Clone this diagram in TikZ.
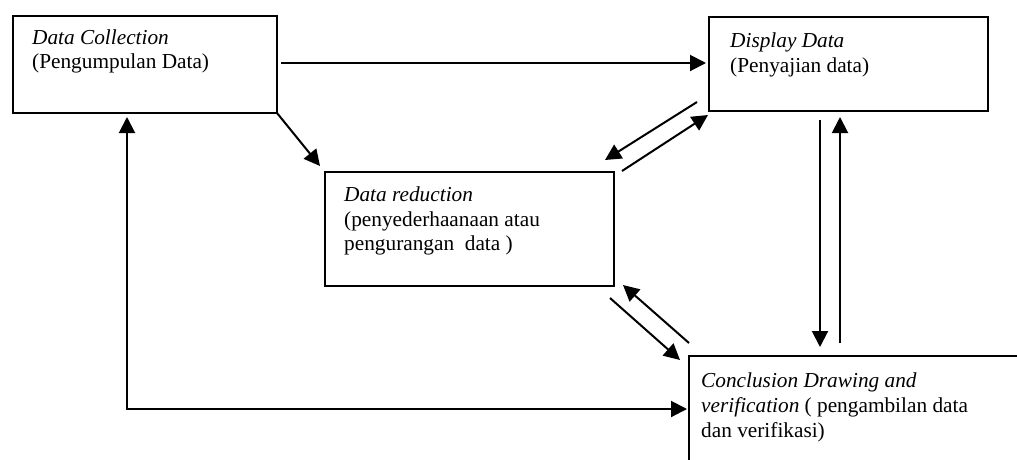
\documentclass[tikz,border=0pt]{standalone}
\usepackage{fontspec}
\setmainfont{Liberation Serif}
\usetikzlibrary{arrows.meta,calc}
\begin{document}
\begin{tikzpicture}[x=1pt,y=-1pt,
  box/.style={draw,line width=2pt,rectangle,inner sep=0pt,anchor=north west},
  txt/.style={anchor=base west,inner sep=0pt,font=\fontsize{21.3}{24.5}\selectfont},
  arr/.style={line width=2pt,-{Triangle[length=16pt,width=16pt]}},
  arr2/.style={line width=2pt,{Triangle[length=16pt,width=16pt]}-{Triangle[length=16pt,width=16pt]}}]
\path[use as bounding box] (0,0) rectangle (1017,459);
\clip (0,0) rectangle (1017,459);
% boxes
\node[box,minimum width=264pt,minimum height=97pt] (A) at (12,15) {};
\node[box,minimum width=279pt,minimum height=94pt] (B) at (708,16) {};
\node[box,minimum width=289pt,minimum height=114pt] (C) at (324,171) {};
\node[box,minimum width=360pt,minimum height=130pt] (D) at (688,355) {};
% texts
\node[txt] (a1) at (32,44) {\itshape Data Collection};
\node[txt] (a2) at (32,68) {(Pengumpulan Data)};
\node[txt] (b1) at (730,47) {\itshape Display Data};
\node[txt] (b2) at (730,72) {(Penyajian data)};
\node[txt] (c1) at (344,201) {\itshape Data reduction};
\node[txt] (c2) at (344,226) {(penyederhaanaan atau};
\node[txt] (c3) at (344,250) {pengurangan\ \ data )};
\node[txt] (d1) at (701,387) {\itshape Conclusion Drawing and};
\node[txt] (d2) at (701,412) {\textit{verification} ( pengambilan data};
\node[txt] (d3) at (701,437) {dan verifikasi)};
% connector end points
\coordinate (ab1) at (281,63);  \coordinate (ab2) at (706,63);
\coordinate (ac1) at (277,113); \coordinate (ac2) at (320,166);
\coordinate (bc1) at (697,102); \coordinate (bc2) at (605,160);
\coordinate (cb1) at (622,171); \coordinate (cb2) at (708,115);
\coordinate (bd1) at (820,120); \coordinate (bd2) at (820,347);
\coordinate (db1) at (840,343); \coordinate (db2) at (840,117);
\coordinate (cd1) at (610,298); \coordinate (cd2) at (680,360);
\coordinate (dc1) at (689,343); \coordinate (dc2) at (623,285);
\coordinate (da1) at (127,117); \coordinate (da2) at (687,409);
% connectors
\draw[arr] (ab1) -- (ab2);
\draw[arr] (ac1) -- (ac2);
\draw[arr] (bc1) -- (bc2);
\draw[arr] (cb1) -- (cb2);
\draw[arr] (bd1) -- (bd2);
\draw[arr] (db1) -- (db2);
\draw[arr] (cd1) -- (cd2);
\draw[arr] (dc1) -- (dc2);
\draw[arr2] (da1) |- (da2);
\end{tikzpicture}
\end{document}
